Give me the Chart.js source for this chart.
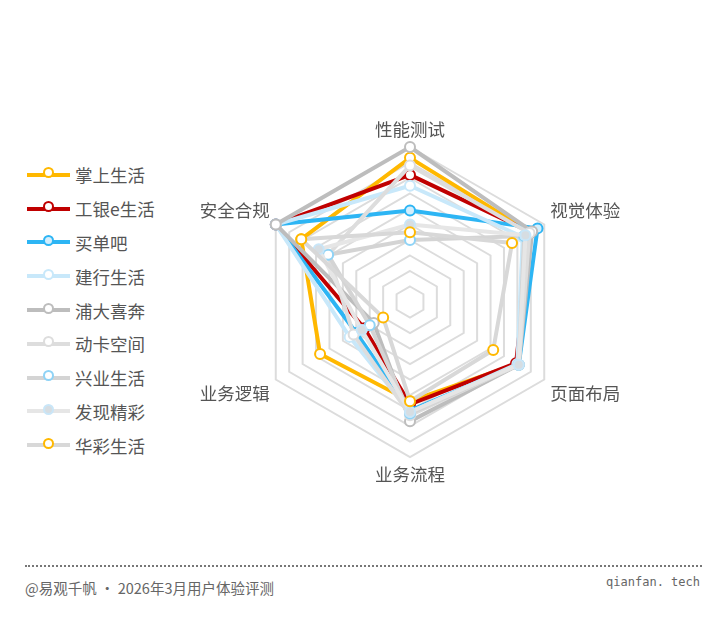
<!DOCTYPE html>
<html>
<head>
<meta charset="utf-8">
<script src="https://cdn.jsdelivr.net/npm/chart.js@4.4.1/dist/chart.umd.min.js"></script>
<style>
  body { margin: 0; background: #fff; width: 726px; height: 621px; position: relative; overflow: hidden;
         font-family: "Noto Sans CJK SC", "Noto Sans", sans-serif; }
  #wrap { position: absolute; left: 180px; top: 119px; width: 460px; height: 366px; }
  #legend { position: absolute; left: 27px; top: 158px; }
  .item { height: 33.8px; display: flex; align-items: center; font-size: 17.5px; color: #555; }
  .mark { position: relative; width: 43px; height: 4px; margin-right: 5px; }
  .mark i { position: absolute; left: 16px; top: -5px; width: 11px; height: 11px; border-radius: 50%;
            box-sizing: border-box; border: 2px solid; margin-top: -0.5px; }
  #rule { position: absolute; left: 25px; top: 565px; width: 677px; border-top: 2px dotted #777; }
  #src { position: absolute; left: 25px; top: 577px; font-size: 14.5px; color: #666; }
  #site { position: absolute; right: 26px; top: 575px; font-size: 12px; color: #666; white-space: pre;
          font-family: "DejaVu Sans Mono", monospace; }
</style>
</head>
<body>
<div id="wrap"><canvas id="radar"></canvas></div>
<div id="legend"></div>
<div id="rule"></div>
<div id="src">@易观千帆 · 2026年3月用户体验评测</div>
<div id="site">qianfan. tech</div>
<script>
const axes = ['性能测试', '视觉体验', '页面布局', '业务流程', '业务逻辑', '安全合规'];
const names = ['掌上生活', '工银e生活', '买单吧', '建行生活', '浦大喜奔', '动卡空间', '兴业生活', '发现精彩', '华彩生活'];

const zhangshang = [93, 90, 80, 64, 67, 81];
const gongyin    = [82, 90, 79, 66, 34, 100];
const maidanba   = [59, 95, 81, 70, 40, 100];
const jianhang   = [75, 84, 80, 71, 45, 100];
const puda       = [100, 91, 81, 77, 27, 100];
const dongka     = [88, 89, 81, 73, 42, 61];
const xingye     = [40, 85, 81, 72, 30, 61];
const faxian     = [50, 86, 81, 71, 36, 68];
const huacai     = [45, 76, 62, 64, 20, 81];
const values = [zhangshang, gongyin, maidanba, jianhang, puda, dongka, xingye, faxian, huacai];

const lineColors  = ['#FFB800', '#C00000', '#2DB5F4', '#C8E8FA', '#BDBDBD', '#DDDDDD', '#D4D4D4', '#E6E6E6', '#D8D8D8'];
const markBorders = ['#FFB800', '#C00000', '#2DB5F4', '#C8E8FA', '#BDBDBD', '#DDDDDD', '#8FD3F6', '#C9E6F8', '#FFB800'];
const markFills   = ['#fff', '#fff', '#D4EEFC', '#fff', '#fff', '#fff', '#fff', '#D6DDE2', '#fff'];

// html legend
const legend = document.getElementById('legend');
names.forEach((n, i) => {
  const row = document.createElement('div');
  row.className = 'item';
  row.innerHTML = '<span class="mark" style="background:' + lineColors[i] + '"><i style="border-color:' +
    markBorders[i] + ';background:' + markFills[i] + '"></i></span>' + n;
  legend.appendChild(row);
});

new Chart(document.getElementById('radar'), {
  type: 'radar',
  data: {
    labels: axes,
    datasets: names.map((n, i) => ({
      label: n,
      data: values[i],
      order: names.length - i,
      borderColor: lineColors[i],
      borderWidth: 4,
      fill: false,
      pointRadius: 5,
      pointBorderWidth: 2,
      pointBorderColor: markBorders[i],
      pointBackgroundColor: markFills[i]
    }))
  },
  options: {
    responsive: true,
    maintainAspectRatio: false,
    animation: false,
    plugins: { legend: { display: false }, tooltip: { enabled: false } },
    scales: {
      r: {
        min: 0,
        max: 100,
        ticks: { stepSize: 10, display: false },
        grid: { color: '#DCDCDC', lineWidth: 2 },
        angleLines: { display: false },
        pointLabels: {
          padding: 7,
          color: '#555',
          font: { size: 17.5, family: '"Noto Sans CJK SC", sans-serif' }
        }
      }
    }
  }
});
</script>
</body>
</html>
